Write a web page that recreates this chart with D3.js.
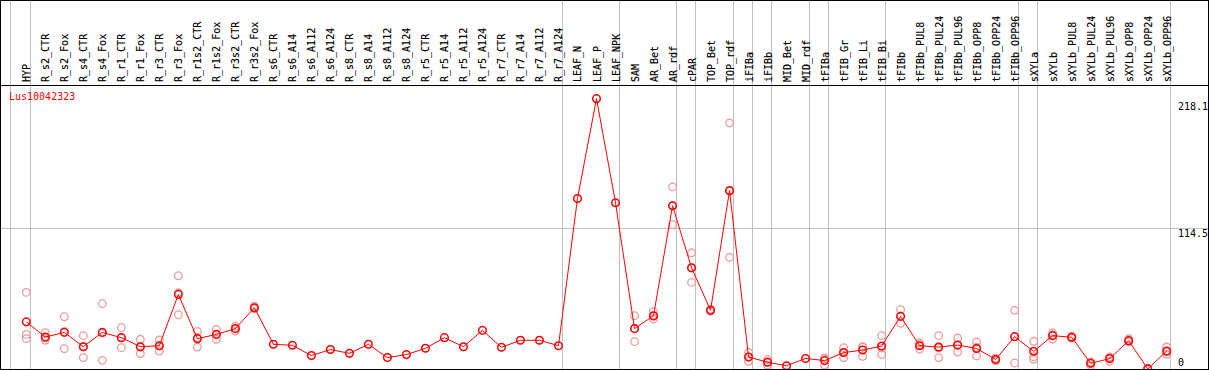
<!DOCTYPE html>
<html>
<head>
<meta charset="utf-8">
<script src="https://cdn.jsdelivr.net/npm/d3@7/dist/d3.min.js"></script>
<style>
    html, body { margin: 0; padding: 0; background: #fff; }
    svg text { font-family: "DejaVu Sans Mono", monospace; font-size: 10px; }
</style>
</head>
<body>
<svg id="chart" width="1209" height="370"></svg>
<script>
"use strict";

var geneName = "Lus10042323";

var labels = [
    "HYP",
    "R_s2_CTR", "R_s2_Fox", "R_s4_CTR", "R_s4_Fox", "R_r1_CTR", "R_r1_Fox",
    "R_r3_CTR", "R_r3_Fox", "R_r1s2_CTR", "R_r1s2_Fox", "R_r3s2_CTR", "R_r3s2_Fox",
    "R_s6_CTR", "R_s6_A14", "R_s6_A112", "R_s6_A124",
    "R_s8_CTR", "R_s8_A14", "R_s8_A112", "R_s8_A124",
    "R_r5_CTR", "R_r5_A14", "R_r5_A112", "R_r5_A124",
    "R_r7_CTR", "R_r7_A14", "R_r7_A112", "R_r7_A124",
    "LEAF_N", "LEAF_P", "LEAF_NPK",
    "SAM", "AR_Bet", "AR_rdf", "cPAR", "TOP_Bet", "TOP_rdf",
    "iFIBa", "iFIBb", "MID_Bet", "MID_rdf",
    "tFIBa", "tFIB_Gr", "tFIB_Li", "tFIB_Bi", "tFIBb",
    "tFIBb_PUL8", "tFIBb_PUL24", "tFIBb_PUL96", "tFIBb_OPP8", "tFIBb_OPP24", "tFIBb_OPP96",
    "sXYLa", "sXYLb",
    "sXYLb_PUL8", "sXYLb_PUL24", "sXYLb_PUL96", "sXYLb_OPP8", "sXYLb_OPP24", "sXYLb_OPP96"
];

// mean expression per sample
var means = [
    40.0,
    27.9, 31.6, 20.2, 31.6, 27.4, 20.2,
    21.0, 61.9, 26.6, 30.0, 34.6, 51.3,
    22.1, 21.3, 13.1, 17.9,
    14.9, 22.1, 11.5, 13.9,
    18.9, 27.4, 20.2, 33.2,
    19.7, 25.3, 25.3, 21.0,
    138.4, 218.1, 135.0,
    34.6, 44.9, 132.6, 83.2, 49.2, 144.8,
    12.0, 7.8, 5.0, 10.8,
    9.1, 15.5, 17.5, 20.7, 44.4,
    21.0, 19.9, 21.5, 18.8, 10.0, 28.2,
    16.5, 29.0,
    27.7, 6.9, 10.7, 25.0, 2.5, 16.7
];

// individual replicates (empty where none are drawn)
var replicates = [
    [63.5, 30.0, 26.6],
    [31.4, 25.3, 27.0], [44.1, 18.6, 32.1], [29.0, 11.5, 20.1], [54.5, 9.3, 31.0],
    [35.4, 19.4, 27.4], [26.1, 14.7, 19.8], [25.5, 16.7, 20.8], [76.8, 45.7, 63.2],
    [32.4, 19.9, 27.5], [34.0, 26.1, 29.9], [36.4, 32.7, 34.7], [52.5, 50.5, 51.0],
    [], [], [], [],
    [], [], [], [],
    [], [], [], [],
    [], [], [], [],
    [], [], [],
    [44.9, 24.2, 34.7], [48.1, 42.2, 44.5], [147.7, 117.5, 132.6],
    [95.1, 71.5, 83.0], [50.0, 48.5, 49.1], [198.8, 91.4, 144.2],
    [15.5, 8.5, 12.0], [9.9, 5.5, 8.0], [], [],
    [10.7, 5.3, 11.3], [19.4, 11.5, 15.6], [20.2, 12.5, 19.8], [29.0, 13.9, 19.2], [49.7, 38.8, 44.7],
    [23.1, 18.3, 21.6], [29.0, 11.5, 19.2], [27.1, 15.9, 21.5], [23.9, 12.8, 19.7],
    [11.0, 9.0, 10.0], [49.2, 7.2, 28.2],
    [24.5, 12.2, 10.1], [31.1, 26.3, 29.5],
    [28.5, 27.0, 27.6], [5.1, 7.5, 8.0], [8.5, 11.5, 12.0], [26.5, 24.0, 24.5],
    [2.0, 3.0], [19.9, 14.1, 16.1]
];

// sample after which a group separator is drawn
var groupEnds = [
    "HYP", "R_r7_A124", "LEAF_NPK", "AR_rdf", "cPAR", "TOP_rdf", "iFIBa", "iFIBb",
    "MID_rdf", "tFIBa", "tFIB_Bi", "tFIBb_OPP96", "sXYLa", "sXYLb_OPP96"
];

var yGrid = [114.5];
var yLabels = [0, 114.5, 218.1];
var yMax = 229;

var headerBottom = 85, plotBottom = 369, rightEdge = 1208;

var svg = d3.select("#chart");

var x = d3.scalePoint().domain(labels).range([26.3, 1166.7]);
var y = d3.scaleLinear().domain([0, yMax]).range([372, 85]);

function crisp(v) { return Math.floor(v) + 0.5; }

// grid
var gridG = svg.append("g").attr("stroke", "#c0c0c0").attr("stroke-width", 1)
    .attr("shape-rendering", "crispEdges");
gridG.append("line")
    .attr("x1", crisp(x(labels[0]) - 16)).attr("x2", crisp(x(labels[0]) - 16))
    .attr("y1", 0).attr("y2", plotBottom);
gridG.selectAll("line.sep").data(groupEnds).enter().append("line")
    .attr("class", "sep")
    .attr("x1", function (d) { return crisp(x(d) + 4); })
    .attr("x2", function (d) { return crisp(x(d) + 4); })
    .attr("y1", 0).attr("y2", plotBottom);
gridG.selectAll("line.hg").data(yGrid).enter().append("line")
    .attr("class", "hg")
    .attr("x1", 1).attr("x2", rightEdge)
    .attr("y1", function (d) { return crisp(y(d)); })
    .attr("y2", function (d) { return crisp(y(d)); });

// frame
svg.append("rect")
    .attr("x", 0.5).attr("y", 0.5)
    .attr("width", rightEdge).attr("height", plotBottom)
    .attr("fill", "none").attr("stroke", "#000").attr("shape-rendering", "crispEdges");
svg.append("line")
    .attr("x1", 0).attr("x2", rightEdge + 1)
    .attr("y1", headerBottom + 0.5).attr("y2", headerBottom + 0.5)
    .attr("stroke", "#000").attr("shape-rendering", "crispEdges");

// column labels
svg.append("g").selectAll("text").data(labels).enter().append("text")
    .attr("transform", function (d) {
        return "translate(" + (Math.round(x(d)) + 3.5) + ",82) rotate(-90)";
    })
    .attr("fill", "#000")
    .attr("stroke", "#000")
    .attr("stroke-width", 0.15)
    .text(function (d) { return d; });

// y labels
svg.append("g").selectAll("text").data(yLabels).enter().append("text")
    .attr("x", 1178)
    .attr("y", function (d) { return Math.round(Math.max(110, Math.min(366, y(d) + 8))); })
    .attr("fill", "#000")
    .text(function (d) { return d; });

// title
svg.append("text")
    .attr("x", 9).attr("y", 100)
    .attr("fill", "red")
    .text(geneName);

// data
svg.append("clipPath").attr("id", "plotclip")
    .append("rect").attr("x", 1).attr("y", headerBottom + 1)
    .attr("width", rightEdge - 1).attr("height", plotBottom - headerBottom - 1);

var dataG = svg.append("g").attr("clip-path", "url(#plotclip)");

var repPoints = [];
replicates.forEach(function (arr, i) {
    arr.forEach(function (v) { repPoints.push({ label: labels[i], value: v }); });
});

dataG.selectAll("circle.rep").data(repPoints).enter().append("circle")
    .attr("class", "rep")
    .attr("cx", function (d) { return x(d.label); })
    .attr("cy", function (d) { return y(d.value); })
    .attr("r", 3.8)
    .attr("fill", "none")
    .attr("stroke", "#f09a9a")
    .attr("stroke-width", 1.3);

var line = d3.line()
    .x(function (d, i) { return x(labels[i]); })
    .y(function (d) { return y(d); });

dataG.append("path")
    .datum(means)
    .attr("d", line)
    .attr("fill", "none")
    .attr("stroke", "red")
    .attr("stroke-width", 1);

dataG.selectAll("circle.mean").data(means).enter().append("circle")
    .attr("class", "mean")
    .attr("cx", function (d, i) { return x(labels[i]); })
    .attr("cy", function (d) { return y(d); })
    .attr("r", 3.8)
    .attr("fill", "none")
    .attr("stroke", "red")
    .attr("stroke-width", 1.5);
</script>
</body>
</html>
